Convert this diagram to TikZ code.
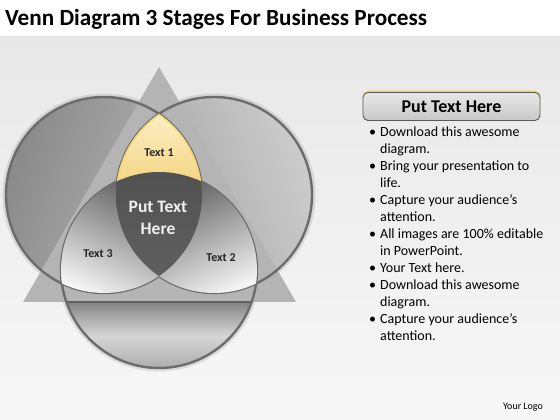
\documentclass[tikz,border=0pt]{standalone}
\usepackage{fontspec}
\setmainfont{Carlito}
\definecolor{vennyellow}{RGB}{244,212,128}
\definecolor{vennlight}{RGB}{252,241,204}
\definecolor{vennrimyellow}{RGB}{246,214,110}
\definecolor{trigray}{RGB}{180,180,180}
\definecolor{rimgray}{RGB}{108,108,108}
\def\vennrad{98pt}
\tikzset{
  rim/.style={draw=rimgray, line width=2.4pt},
  glow/.style={draw=black, opacity=0.10, line width=7pt},
  vennlbl/.style={font=\bfseries\fontsize{12}{14}\selectfont, text=black!85},
  centerlbl/.style={font=\bfseries\fontsize{17.5}{22}\selectfont, text=white!94!black, align=center},
  hdrshape/.style={rounded corners=5pt, minimum width=177pt, minimum height=28pt},
  hdrbox/.style={hdrshape, top color=black!9, bottom color=black!22, draw=black!65, line width=0.9pt,
    font=\bfseries\fontsize{18}{20}\selectfont}
}
\begin{document}
\begin{tikzpicture}[x=1pt,y=1pt]
    \useasboundingbox (0,0) rectangle (560,420);
    \fill[white] (0,0) rectangle (560,420);
    \shade[top color=black!9, bottom color=black!3] (0,0) rectangle (560,383);

    % title
    \node[anchor=west, inner sep=0pt, font=\bfseries\fontsize{23.2}{27}\selectfont] (title) at (5,401)
        {Venn Diagram 3 Stages For Business Process};

    % centres of the three circles and the triangle corners
    \coordinate (cA) at (104,225);
    \coordinate (cB) at (214,225);
    \coordinate (cC) at (159,150);
    \coordinate (apex) at (159,353);
    \coordinate (bl) at (23,118);
    \coordinate (br) at (296,118);

    % soft shadow
    \draw[glow] (cA) circle[radius=\vennrad] (cB) circle[radius=\vennrad] (cC) circle[radius=\vennrad];

    % big circles
    \shade[left color=black!46, right color=black!27, shading angle=70] (cA) circle[radius=\vennrad];
    \shade[left color=black!38, right color=black!20, shading angle=110] (cB) circle[radius=\vennrad];
    \begin{scope}
        \clip (cC) circle[radius=\vennrad];
        \shade[top color=black!50, bottom color=black!34, middle color=black!16] (40,48) rectangle (280,120);
    \end{scope}

    % triangle
    \fill[trigray] (apex) -- (bl) -- (br) -- cycle;
    \begin{scope}
        \clip (cC) circle[radius=\vennrad];
        \draw[black!62, line width=1.6pt] (bl) -- (br);
    \end{scope}

    % rims
    \draw[rim] (cA) circle[radius=\vennrad];
    \draw[rim] (cB) circle[radius=\vennrad];
    \draw[rim] (cC) circle[radius=\vennrad];

    % Text 1 region
    \begin{scope}
        \clip (cA) circle[radius=\vennrad];
        \clip (cB) circle[radius=\vennrad];
        \shade[top color=vennlight, bottom color=vennyellow] (60,235) rectangle (260,312);
        \draw[vennrimyellow, line width=2.6pt] (cA) circle[radius=\vennrad] (cB) circle[radius=\vennrad];
    \end{scope}

    % Text 3 region
    \begin{scope}
        \clip (cA) circle[radius=\vennrad];
        \clip (cC) circle[radius=\vennrad];
        \shade[top color=black!62, bottom color=black!3, shading angle=-25] (50,122) rectangle (170,240);
    \end{scope}

    % Text 2 region
    \begin{scope}
        \clip (cB) circle[radius=\vennrad];
        \clip (cC) circle[radius=\vennrad];
        \shade[top color=black!62, bottom color=black!3, shading angle=25] (148,122) rectangle (268,240);
    \end{scope}

    % centre
    \begin{scope}
        \clip (cA) circle[radius=\vennrad];
        \clip (cB) circle[radius=\vennrad];
        \shade[top color=black!68, bottom color=black!58] (cC) circle[radius=\vennrad];
    \end{scope}

    \node[vennlbl] (t1) at (159,267) {Text 1};
    \node[vennlbl] (t3) at (98,166) {Text 3};
    \node[vennlbl] (t2) at (221,162) {Text 2};
    \node[centerlbl] (mid) at (158,202) {Put Text\\Here};

    % right panel
    \node[hdrshape, fill=vennyellow] (hdrglow) at (451.5,315.5) {};
    \node[hdrbox] (hdr) at (451.5,313.5) {Put Text Here};
    \node[anchor=north west, inner sep=0pt, font=\fontsize{14}{17}\selectfont] (notes) at (369,296) {%
        \begin{tabular}{@{}l@{\hspace{4pt}}l@{}}
        \textbullet & Download this awesome\\
                    & diagram.\\
        \textbullet & Bring your presentation to\\
                    & life.\\
        \textbullet & Capture your audience’s\\
                    & attention.\\
        \textbullet & All images are 100\% editable\\
                    & in PowerPoint.\\
        \textbullet & Your Text here.\\
        \textbullet & Download this awesome\\
                    & diagram.\\
        \textbullet & Capture your audience’s\\
                    & attention.
        \end{tabular}};

    \node[font=\fontsize{10}{12}\selectfont] (logo) at (523,13) {Your Logo};
\end{tikzpicture}
\end{document}
